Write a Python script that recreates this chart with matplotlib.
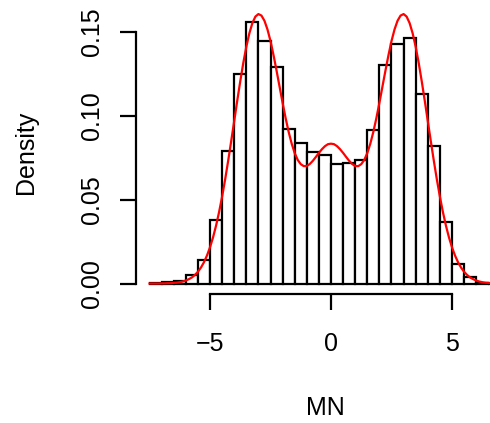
import numpy as np
import matplotlib
matplotlib.use("Agg")
import matplotlib.pyplot as plt

# histogram of MN (density scale), bins of width 0.5 from -7.5 to 7
bin_lefts = np.arange(-7.5, 7.0, 0.5)
bin_density = [0.0002, 0.0010, 0.0014, 0.0053, 0.0141, 0.0379, 0.0790,
               0.1248, 0.1560, 0.1442, 0.1291, 0.0920, 0.0838, 0.0783,
               0.0763, 0.0711, 0.0715, 0.0733, 0.0916, 0.1303, 0.1424,
               0.1460, 0.1130, 0.0822, 0.0366, 0.0114, 0.0038, 0.0004,
               0.0000]

# kernel density curve (x >= 0, mirrored for x < 0)
kde_x = np.arange(-7.5, 7.51, 0.125)
kde_right = [0.0833, 0.0830, 0.0818, 0.0800, 0.0778, 0.0754, 0.0731, 0.0712,
             0.0700, 0.0699, 0.0711, 0.0736, 0.0777, 0.0833, 0.0903, 0.0985,
             0.1076, 0.1172, 0.1268, 0.1360, 0.1444, 0.1513, 0.1565, 0.1596,
             0.1605, 0.1590, 0.1551, 0.1490, 0.1410, 0.1314, 0.1205, 0.1089,
             0.0968, 0.0848, 0.0731, 0.0620, 0.0518, 0.0426, 0.0345, 0.0275,
             0.0216, 0.0167, 0.0127, 0.0095, 0.0070, 0.0051, 0.0036, 0.0026,
             0.0018, 0.0012, 0.0008, 0.0005, 0.0004, 0.0002, 0.0002, 0.0001,
             0.0001, 0.0000, 0.0000, 0.0000, 0.0000]
kde_y = kde_right[:0:-1] + kde_right

x_ticks = [-5, 0, 5]
y_ticks = [0.00, 0.05, 0.10, 0.15]

plt.rcParams['font.family'] = ['Liberation Sans', 'DejaVu Sans']

W, H = 490, 423
fig = plt.figure(figsize=(W / 100, H / 100), dpi=100)
# plot region in pixels: left 135.5, right 514.4, top 11.2, bottom 294
left, right, top, bottom = 135.5, 514.4, 11.2, 294.0
ax = fig.add_axes([left / W, (H - bottom) / H, (right - left) / W, (bottom - top) / H])

lw = 1.6
ax.bar(bin_lefts, bin_density[:len(bin_lefts)], width=0.5, align='edge',
       facecolor='white', edgecolor='black', linewidth=lw)
ax.plot(kde_x, kde_y, color='#FF0000', linewidth=lw)

ax.set_xlim(-8.08, 7.58)
ax.set_ylim(-0.00624, 0.1622)

for s in ['top', 'right']:
    ax.spines[s].set_visible(False)
ax.spines['left'].set_bounds(0, 0.15)
ax.spines['bottom'].set_bounds(-5, 5)
ax.spines['left'].set_linewidth(lw)
ax.spines['bottom'].set_linewidth(lw)

ax.set_xticks(x_ticks)
ax.set_xticklabels([str(t) if t >= 0 else '\u2212' + str(-t) for t in x_ticks])
ax.set_yticks(y_ticks)
ax.set_yticklabels(['%.2f' % t for t in y_ticks], rotation=90, va='center')
ax.tick_params(axis='both', direction='out', length=11.7, width=lw, labelsize=18)
ax.tick_params(axis='x', pad=15.5)
ax.tick_params(axis='y', pad=11.3)

ax.set_xlabel('MN', fontsize=18, va='baseline')
ax.xaxis.set_label_coords(0.5, -(415 - bottom) / (bottom - top))
ax.set_ylabel('Density', fontsize=18)
ax.yaxis.set_label_coords((38.3 - left) / (right - left), 0.5)

fig.savefig('out.png', dpi=100)
